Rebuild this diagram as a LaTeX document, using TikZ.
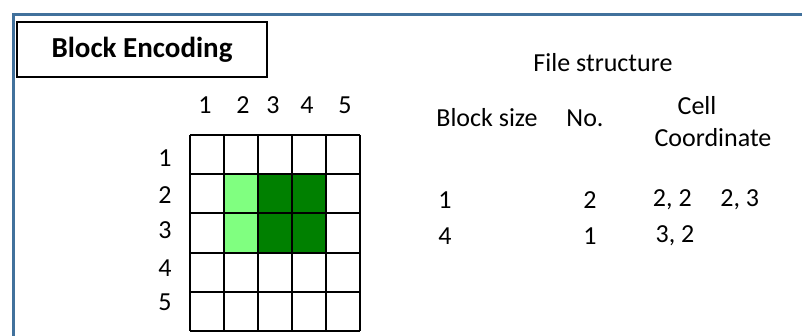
\documentclass[tikz,border=0pt]{standalone}
\usepackage{fontspec}
\setmainfont{Carlito}
\usepackage{tikz}
\usetikzlibrary{positioning}

\begin{document}
\begin{tikzpicture}[
            x=0.5pt, y=-0.5pt,
            rahmen/.style={
                    draw=rahmenblau,
                    line width=1.5pt
                },
            titel/.style={
                    draw,
                    line width=0.75pt,
                    minimum width=125pt,
                    minimum height=27.5pt,
                    font=\fontsize{14.5}{16}\selectfont\bfseries
                },
            gitter/.style={
                    draw,
                    line width=1pt
                },
            schrift/.style={
                    inner sep=0pt,
                    font=\fontsize{13}{15}\selectfont
                }
        ]
        \definecolor{rahmenblau}{RGB}{65,113,156}
        \definecolor{hell}{RGB}{128,255,128}
        \definecolor{dunkel}{RGB}{0,128,0}

        \useasboundingbox (0,0) rectangle (802,336);
        \clip (0,0) rectangle (802,336);
        \fill[white] (0,0) rectangle (802,336);

        % frame, open to the right and bottom
        \draw[rahmen] (13.5,340) -- (13.5,14.5) -- (806,14.5);

        \node[titel] (titel) at (142,49.5) {Block Encoding};

        % coloured cells
        \fill[hell] (224,174) rectangle (258,253);
        \fill[dunkel] (258,174) rectangle (326,253);

        % grid
        \foreach \i in {0,...,5} {
                \draw[gitter] (190+34*\i,135) -- (190+34*\i,331);
                \draw[gitter] (190,135+39.2*\i) -- (360,135+39.2*\i);
            }

        % column and row numbers
        \foreach \n/\x in {1/205, 2/243, 3/273, 4/307, 5/345}
        \node[schrift] (spalte\n) at (\x,105) {\n};
        \foreach \n/\y in {1/158, 2/195, 3/230, 4/268, 5/302}
        \node[schrift] (zeile\n) at (165,\y) {\n};

        % file structure table
        \node[schrift] (datei) at (603,63) {File structure};
        \node[schrift] (groesse) at (487,118) {Block size};
        \node[schrift] (anzahl) at (585,118) {No.};
        \node[schrift] (zelle) at (697,106) {Cell};
        \node[schrift] (koord) at (713,138) {Coordinate};

        \node[schrift] (groesseA) at (445,200) {1};
        \node[schrift] (anzahlA) at (590,200) {2};
        \node[schrift] (koordA) at (706,200) {2, 2\hspace{1.1em}2, 3};

        \node[schrift] (groesseB) at (445,236) {4};
        \node[schrift] (anzahlB) at (590,236) {1};
        \node[schrift] (koordB) at (675,236) {3, 2};

    \end{tikzpicture}
\end{document}
